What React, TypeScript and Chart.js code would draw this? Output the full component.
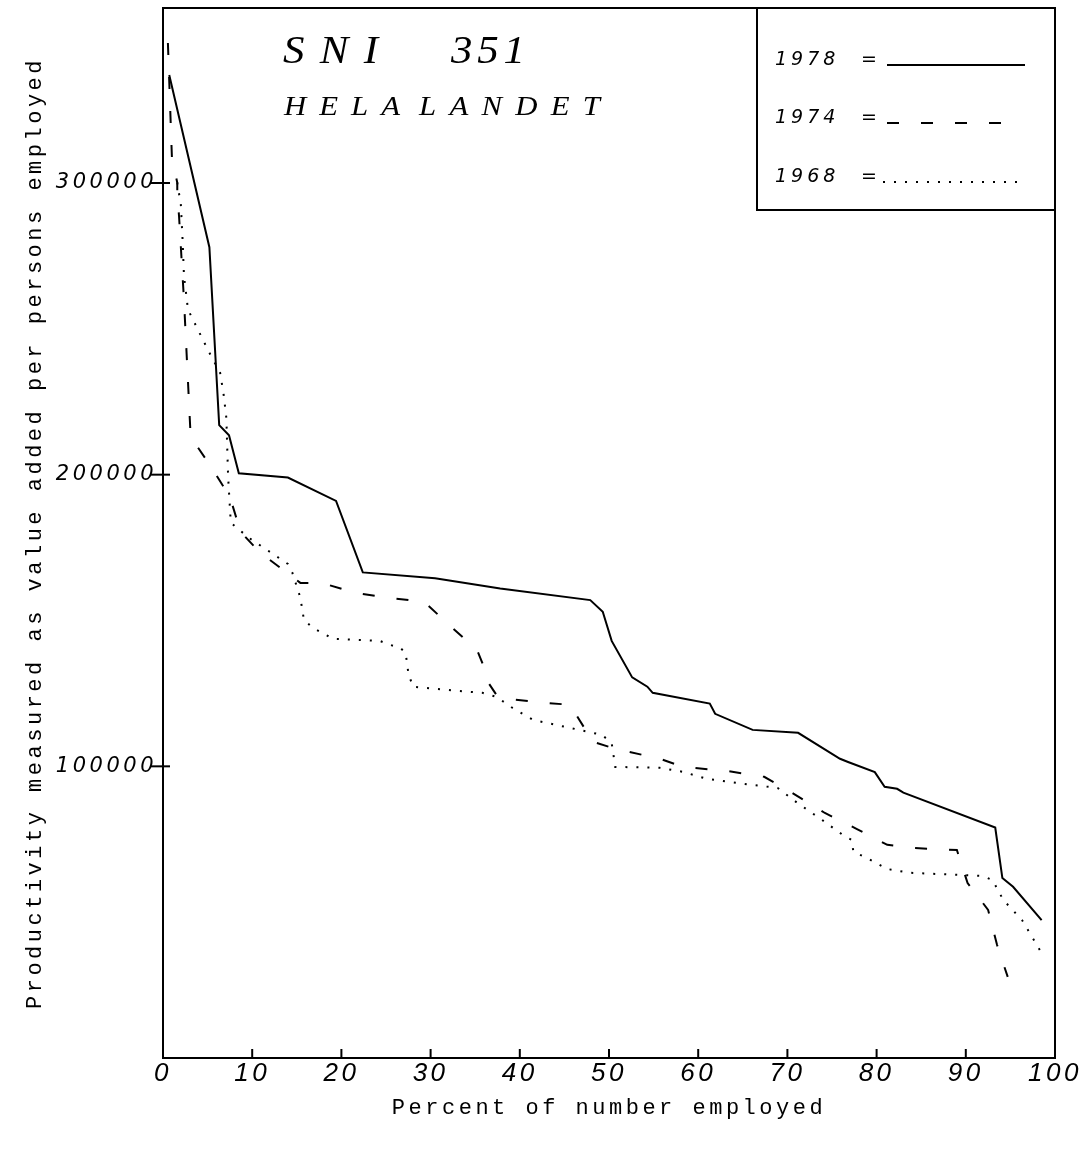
import React, { useEffect, useRef } from 'react';
import { Chart, registerables } from 'chart.js';

Chart.register(...registerables);

// ---- data (percent of number employed, value added per person) ----
const pct1978 = [0.7, 5.2, 6.3, 7.4, 8.5, 14.0, 19.4, 22.4, 30.5, 37.8, 47.9, 49.3, 50.3, 52.6, 54.3, 54.9, 61.3, 61.9, 66.1, 71.2, 75.9, 76.8, 79.8, 80.9, 82.3, 83.0, 93.3, 94.1, 95.3, 98.5];
const val1978 = [337000, 278000, 217000, 213500, 200500, 199000, 191000, 166500, 164500, 161000, 157000, 153000, 143000, 130500, 127300, 125200, 121500, 118000, 112500, 111500, 102600, 101500, 98000, 93000, 92300, 91000, 79000, 61700, 58700, 47300];

const pct1974 = [0.55, 1.0, 1.6, 1.6, 1.8, 2.35, 2.9, 3.1, 5.3, 7.5, 8.7, 10.9, 14.2, 15.4, 17.8, 21.5, 25.3, 29.3, 32.3, 35.2, 36.2, 36.4, 37.6, 42.8, 45.6, 46.2, 48.2, 50.7, 55.7, 58.3, 63.3, 67.4, 69.8, 74.2, 77.8, 81.2, 84.1, 89.0, 90.2, 92.5, 93.5, 94.7];
const val1974 = [348000, 308700, 300100, 296700, 288500, 260000, 225700, 213000, 203100, 192400, 180400, 173200, 165700, 162900, 162900, 159500, 157800, 156400, 147800, 140000, 132400, 129000, 123500, 121800, 121100, 118300, 108400, 106000, 102600, 99800, 98400, 96400, 92300, 84000, 78500, 73100, 72000, 71300, 60000, 50800, 38800, 27800];

const pct1968 = [0.3, 1.6, 2.0, 2.2, 2.35, 2.8, 5.2, 6.4, 6.8, 7.1, 7.3, 7.6, 9.6, 11.8, 14.0, 14.5, 15.4, 15.8, 16.8, 19.1, 24.3, 25.4, 26.6, 27.2, 27.5, 28.0, 31.8, 35.8, 37.4, 39.2, 41.5, 45.6, 49.2, 50.3, 50.7, 55.7, 58.3, 61.0, 66.1, 68.9, 71.1, 73.9, 76.2, 77.2, 77.4, 78.9, 81.2, 83.7, 89.0, 91.9, 93.0, 94.2, 96.3, 98.5];
const val1968 = [300000, 300000, 292600, 280200, 268200, 256600, 241800, 235000, 227400, 219500, 199300, 183500, 178400, 173900, 169400, 166400, 157800, 150200, 147500, 143700, 143000, 141700, 140600, 138900, 132100, 127300, 126200, 125200, 123800, 120000, 115900, 113200, 110800, 108000, 99800, 99500, 98100, 95700, 93600, 92600, 87500, 81600, 76500, 74800, 70700, 68600, 64800, 63500, 62800, 62400, 61000, 54200, 47300, 36000];

const seriesLabels = ['1978', '1974', '1968'];
const xTicks = [0, 10, 20, 30, 40, 50, 60, 70, 80, 90, 100];
const yTicks = [100000, 200000, 300000];
const xMin = 0, xMax = 100;
const yMin = 0, yMax = 360000;
const titleLine1a = 'SNI';
const titleLine1b = '351';
const titleLine2a = 'HELA';
const titleLine2b = 'LANDET';
const xAxisTitle = 'Percent of number employed';
const yAxisTitle = 'Productivity measured as value added per persons employed';

const W = 1089, H = 1154;
const LS = '3.5px';
const X_TICK_FONT = { family: '"Liberation Sans", sans-serif', size: 26, style: 'italic' as const };
const Y_TICK_FONT = { family: '"DejaVu Sans", sans-serif', size: 21, style: 'italic' as const };
const MONO_FONT = { family: '"Liberation Mono", monospace', size: 22 };

const toPts = (xs: number[], ys: number[]) => xs.map((x, i) => ({ x, y: ys[i] }));

// draw text stretched horizontally by sx, spread so that it spans x0..x1
function fitText(ctx: CanvasRenderingContext2D, text: string, x0: number, x1: number, y: number, sx: number) {
  ctx.save();
  (ctx as any).letterSpacing = '0px';
  const w = ctx.measureText(text).width * sx;
  const n = text.length;
  const ls = n > 1 ? (x1 - x0 - w) / (n - 1) : 0;
  ctx.translate(x0, y);
  ctx.scale(sx, 1);
  (ctx as any).letterSpacing = Math.max(0, ls / sx) + 'px';
  ctx.fillText(text, 0, 0);
  ctx.restore();
}

const spacingPlugin = {
  id: 'spacing',
  beforeLayout(chart: any) { chart.ctx.letterSpacing = LS; },
  beforeDraw(chart: any) { chart.ctx.letterSpacing = LS; },
};

const decorPlugin = {
  id: 'decor',
  afterDraw(chart: any) {
    const { ctx, chartArea: a, scales } = chart;
    ctx.save();
    ctx.strokeStyle = '#000';
    ctx.fillStyle = '#000';
    ctx.lineWidth = 2;
    ctx.setLineDash([]);
    // frame
    ctx.strokeRect(a.left, a.top, a.right - a.left, a.bottom - a.top);
    // x tick marks (pointing inward)
    const xs = scales.x;
    xs.ticks.forEach((t: any) => {
      if (t.value <= xMin || t.value >= xMax) return;
      const px = xs.getPixelForValue(t.value);
      ctx.beginPath(); ctx.moveTo(px, a.bottom); ctx.lineTo(px, a.bottom - 9); ctx.stroke();
    });
    // y tick marks (crossing the axis)
    const ys = scales.y;
    ys.ticks.forEach((t: any) => {
      if (t.value <= yMin) return;
      const py = ys.getPixelForValue(t.value);
      ctx.beginPath(); ctx.moveTo(a.left - 12, py); ctx.lineTo(a.left + 7, py); ctx.stroke();
    });

    // title
    ctx.textBaseline = 'alphabetic';
    ctx.textAlign = 'left';
    ctx.font = 'italic 39px "Liberation Serif", serif';
    fitText(ctx, titleLine1a, 283, 378, 63, 1.1);
    fitText(ctx, titleLine1b, 451, 525, 63, 1.1);
    ctx.font = 'italic 28px "Liberation Serif", serif';
    fitText(ctx, titleLine2a, 284, 400, 115, 1.1);
    fitText(ctx, titleLine2b, 419, 600, 115, 1.1);

    // legend box
    const boxLeft = 757, boxBottom = 210;
    ctx.beginPath();
    ctx.moveTo(boxLeft, a.top);
    ctx.lineTo(boxLeft, boxBottom);
    ctx.lineTo(a.right, boxBottom);
    ctx.stroke();
    ctx.font = 'italic 19px "DejaVu Sans", sans-serif';
    ctx.letterSpacing = '4px';
    const rows = [65, 123, 182];
    const lineEnds = [[887, 1025], [887, 1005], [883, 1020]];
    chart.data.datasets.forEach((ds: any, i: number) => {
      const yb = rows[i];
      ctx.fillText(ds.label, 775, yb);
      ctx.fillText('=', 861, yb);
      ctx.setLineDash(ds.borderDash || []);
      ctx.lineWidth = ds.borderWidth;
      ctx.beginPath();
      ctx.moveTo(lineEnds[i][0], yb);
      ctx.lineTo(lineEnds[i][1], yb);
      ctx.stroke();
      ctx.setLineDash([]);
    });
    ctx.restore();
  },
};

export default function App() {
  const ref = useRef<HTMLCanvasElement>(null);
  useEffect(() => {
    if (!ref.current) return;
    const chart = new Chart(ref.current, {
      type: 'line',
      data: {
        datasets: [
          { label: seriesLabels[0], data: toPts(pct1978, val1978), borderColor: '#000', borderWidth: 2, borderDash: [], pointRadius: 0, tension: 0, fill: false },
          { label: seriesLabels[1], data: toPts(pct1974, val1974), borderColor: '#000', borderWidth: 2, borderDash: [12, 22], pointRadius: 0, tension: 0, fill: false },
          { label: seriesLabels[2], data: toPts(pct1968, val1968), borderColor: '#000', borderWidth: 2, borderDash: [2, 9], pointRadius: 0, tension: 0, fill: false },
        ],
      },
      options: {
        animation: false,
        responsive: false,
        devicePixelRatio: 1,
        layout: { padding: { top: 8, right: 34, left: 0, bottom: 0 } },
        plugins: { legend: { display: false }, tooltip: { enabled: false }, title: { display: false } },
        scales: {
          x: {
            type: 'linear', min: xMin, max: xMax,
            afterBuildTicks: (s: any) => { s.ticks = xTicks.map((v) => ({ value: v })); },
            ticks: { font: X_TICK_FONT, color: '#000', padding: 0, maxRotation: 0, autoSkip: false },
            grid: { display: false, drawTicks: false },
            border: { display: false },
            title: { display: true, text: xAxisTitle, font: MONO_FONT, color: '#000', padding: { top: 0, bottom: 33 } },
            afterFit: (s: any) => { s.height = 96; s.paddingLeft = 0; s.paddingRight = 0; },
          },
          y: {
            type: 'linear', min: yMin, max: yMax,
            afterBuildTicks: (s: any) => { s.ticks = yTicks.map((v) => ({ value: v })); },
            ticks: { font: Y_TICK_FONT, color: '#000', padding: 6, autoSkip: false, callback: (v: any) => String(v) },
            grid: { display: false, drawTicks: false },
            border: { display: false },
            title: { display: true, text: yAxisTitle, font: MONO_FONT, color: '#000', padding: { top: 22, bottom: 0 } },
            afterFit: (s: any) => { s.width = 163; s.paddingTop = 0; s.paddingBottom = 0; },
          },
        },
      } as any,
      plugins: [spacingPlugin, decorPlugin],
    });
    return () => chart.destroy();
  }, []);
  return (
    <div style={{ position: 'absolute', left: 0, top: 0, width: W, height: H, background: '#fff' }}>
      <canvas ref={ref} width={W} height={H} style={{ display: 'block', width: W, height: H }} />
    </div>
  );
}
